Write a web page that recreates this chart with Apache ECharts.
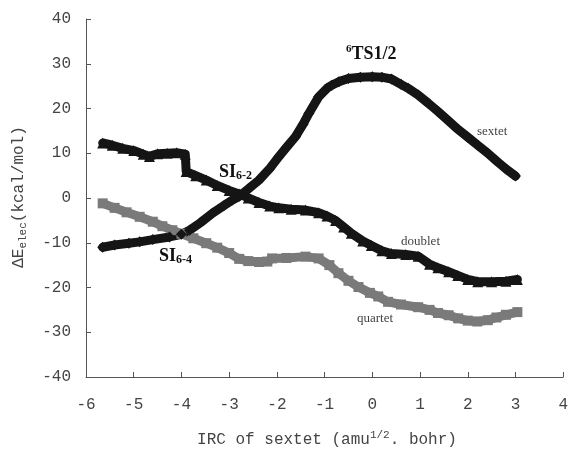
<!DOCTYPE html>
<html>
<head>
<meta charset="utf-8">
<script src="https://cdn.jsdelivr.net/npm/echarts@6/dist/echarts.min.js"></script>
<style>html,body{margin:0;padding:0;background:#fff}#c{width:571px;height:449px}</style>
</head>
<body>
<div id="c"></div>
<script>
// IRC coordinate (amu^1/2 bohr) and relative energy (kcal/mol)
const sextetX = [-5.65,-5.4,-5.1,-4.875,-4.6,-4.25,-4.0,-3.83,-3.6,-3.35,-3.1,-2.94,-2.79,-2.6,-2.375,-2.15,-1.96,-1.8,-1.61,-1.45,-1.33,-1.125,-0.95,-0.85,-0.7,-0.5,-0.25,0.0,0.2,0.4,0.6,0.75,0.96,1.17,1.38,1.58,1.8,2.0,2.21,2.42,2.6,2.8,3.0];
const sextetY = [-11.0,-10.5,-10.1,-9.8,-9.3,-8.7,-8.1,-7.2,-5.5,-3.4,-1.6,-0.5,0.4,2.0,4.0,6.6,9.2,11.3,13.7,16.5,18.9,22.6,24.5,25.2,26.0,26.7,27.0,27.1,27.0,26.6,25.4,24.5,23.0,21.2,19.3,17.4,15.3,13.6,11.8,10.0,8.3,6.5,4.9];

const doubletX = [-5.65,-5.45,-5.23,-5.0,-4.8,-4.67,-4.5,-4.3,-4.1,-3.92,-3.9,-3.7,-3.48,-3.25,-3.0,-2.79,-2.6,-2.375,-2.15,-1.96,-1.7,-1.4,-1.125,-0.95,-0.77,-0.6,-0.44,-0.2,-0.02,0.2,0.4,0.7,0.96,1.2,1.375,1.6,1.79,2.0,2.21,2.5,2.8,3.04];
const doubletY = [12.3,11.8,11.1,10.6,9.8,9.3,9.9,10.0,10.1,9.8,5.9,5.0,4.0,2.8,1.7,0.9,0.0,-1.0,-1.8,-2.2,-2.5,-2.7,-3.3,-4.0,-5.0,-6.5,-7.9,-9.6,-10.6,-11.8,-12.4,-12.6,-13.0,-14.8,-15.6,-16.5,-17.3,-18.2,-18.7,-18.7,-18.6,-18.2];

const quartetX = [-5.65,-5.4,-5.15,-4.875,-4.6,-4.4,-4.19,-4.0,-3.75,-3.48,-3.25,-3.0,-2.79,-2.6,-2.375,-2.2,-2.1,-1.8,-1.4,-1.125,-0.9,-0.71,-0.5,-0.29,-0.05,0.125,0.33,0.6,0.96,1.2,1.375,1.6,1.8,2.0,2.2,2.42,2.6,2.8,3.04];
const quartetY = [-1.2,-2.2,-3.2,-4.2,-5.3,-6.3,-7.2,-8.0,-9.0,-10.1,-11.1,-12.3,-13.6,-14.1,-14.3,-14.2,-13.5,-13.4,-13.1,-13.5,-15.0,-16.8,-18.5,-19.9,-21.2,-22.0,-23.2,-23.8,-24.4,-25.0,-25.7,-26.2,-26.9,-27.4,-27.6,-27.3,-26.7,-26.1,-25.5];

const xTicks = [-6,-5,-4,-3,-2,-1,0,1,2,3,4];
const yTicks = [-40,-30,-20,-10,0,10,20,30,40];

const zip = (xs, ys) => xs.map((x, i) => [x, ys[i]]);
const MONO = '"Liberation Mono", "DejaVu Sans Mono", monospace';
const SERIF = '"Liberation Serif", "DejaVu Serif", serif';

const chart = echarts.init(document.getElementById('c'), null, {renderer: 'canvas'});

function lineSeries(name, xs, ys, symbol, color, size) {
  return {
    name, type: 'line', data: zip(xs, ys),
    symbol, symbolSize: size, showSymbol: true,
    lineStyle: {color, width: 9, join: 'round', cap: 'round'},
    itemStyle: {color},
    silent: true, animation: false, z: 3
  };
}

chart.setOption({
  animation: false,
  grid: {left: 86, right: 5, top: 19, bottom: 72, containLabel: false},
  xAxis: {
    type: 'value', min: xTicks[0], max: xTicks[xTicks.length - 1], interval: 1,
    axisLine: {onZero: false, lineStyle: {color: '#555', width: 1}},
    axisTick: {inside: true, length: 5, lineStyle: {color: '#555'}},
    axisLabel: {color: '#444', fontFamily: MONO, fontSize: 16, margin: 20},
    splitLine: {show: false}
  },
  yAxis: {
    type: 'value', min: yTicks[0], max: yTicks[yTicks.length - 1], interval: 10,
    axisLine: {show: true, onZero: false, lineStyle: {color: '#555', width: 1}},
    axisTick: {show: true, inside: true, length: 5, lineStyle: {color: '#555'}},
    axisLabel: {color: '#444', fontFamily: MONO, fontSize: 16, margin: 15},
    splitLine: {show: false}
  },
  series: [
    lineSeries('quartet', quartetX, quartetY, 'rect', '#7a7a7a', 10),
    lineSeries('doublet', doubletX, doubletY, 'triangle', '#151515', 11),
    lineSeries('sextet', sextetX, sextetY, 'diamond', '#151515', 11)
  ],
  graphic: [
    {type: 'text', left: 346, top: 44, z: 10, style: {
      text: '{sup|6}{b|TS1/2}', rich: {
        sup: {fontFamily: SERIF, fontWeight: 'bold', fontSize: 11, fill: '#111', verticalAlign: 'top', lineHeight: 20},
        b: {fontFamily: SERIF, fontWeight: 'bold', fontSize: 18, fill: '#111', lineHeight: 20}
      }}},
    {type: 'text', left: 219, top: 162, z: 10, style: {
      text: '{b|SI}{sub|6-2}', rich: {
        b: {fontFamily: SERIF, fontWeight: 'bold', fontSize: 18, fill: '#111', lineHeight: 20},
        sub: {fontFamily: SERIF, fontWeight: 'bold', fontSize: 12, fill: '#111', verticalAlign: 'bottom', lineHeight: 14, padding: [8, 0, 0, 0]}
      }}},
    {type: 'text', left: 159, top: 246, z: 10, style: {
      text: '{b|SI}{sub|6-4}', rich: {
        b: {fontFamily: SERIF, fontWeight: 'bold', fontSize: 18, fill: '#111', lineHeight: 20},
        sub: {fontFamily: SERIF, fontWeight: 'bold', fontSize: 12, fill: '#111', verticalAlign: 'bottom', lineHeight: 14, padding: [8, 0, 0, 0]}
      }}},
    {type: 'text', left: 477, top: 125, z: 10, style: {text: 'sextet', font: '13px ' + SERIF, fill: '#444'}},
    {type: 'text', left: 401, top: 235, z: 10, style: {text: 'doublet', font: '13px ' + SERIF, fill: '#444'}},
    {type: 'text', left: 357, top: 312, z: 10, style: {text: 'quartet', font: '13px ' + SERIF, fill: '#444'}},
    {type: 'text', x: 327, y: 440, z: 10, style: {
      text: '{n|IRC of sextet (amu}{sup|1/2}{n|. bohr)}', align: 'center', verticalAlign: 'middle', rich: {
        n: {fontFamily: MONO, fontSize: 16, fill: '#444', lineHeight: 20},
        sup: {fontFamily: MONO, fontSize: 11, fill: '#444', verticalAlign: 'top', lineHeight: 20}
      }}},
    {type: 'text', x: 19, y: 197, rotation: Math.PI / 2, z: 10, style: {
      text: '{n|ΔE}{sub|elec}{n|(kcal/mol)}', align: 'center', verticalAlign: 'middle', rich: {
        n: {fontFamily: MONO, fontSize: 16, fill: '#444', lineHeight: 20},
        sub: {fontFamily: MONO, fontSize: 11, fill: '#444', verticalAlign: 'bottom', lineHeight: 20}
      }}}
  ]
});
</script>
</body>
</html>
